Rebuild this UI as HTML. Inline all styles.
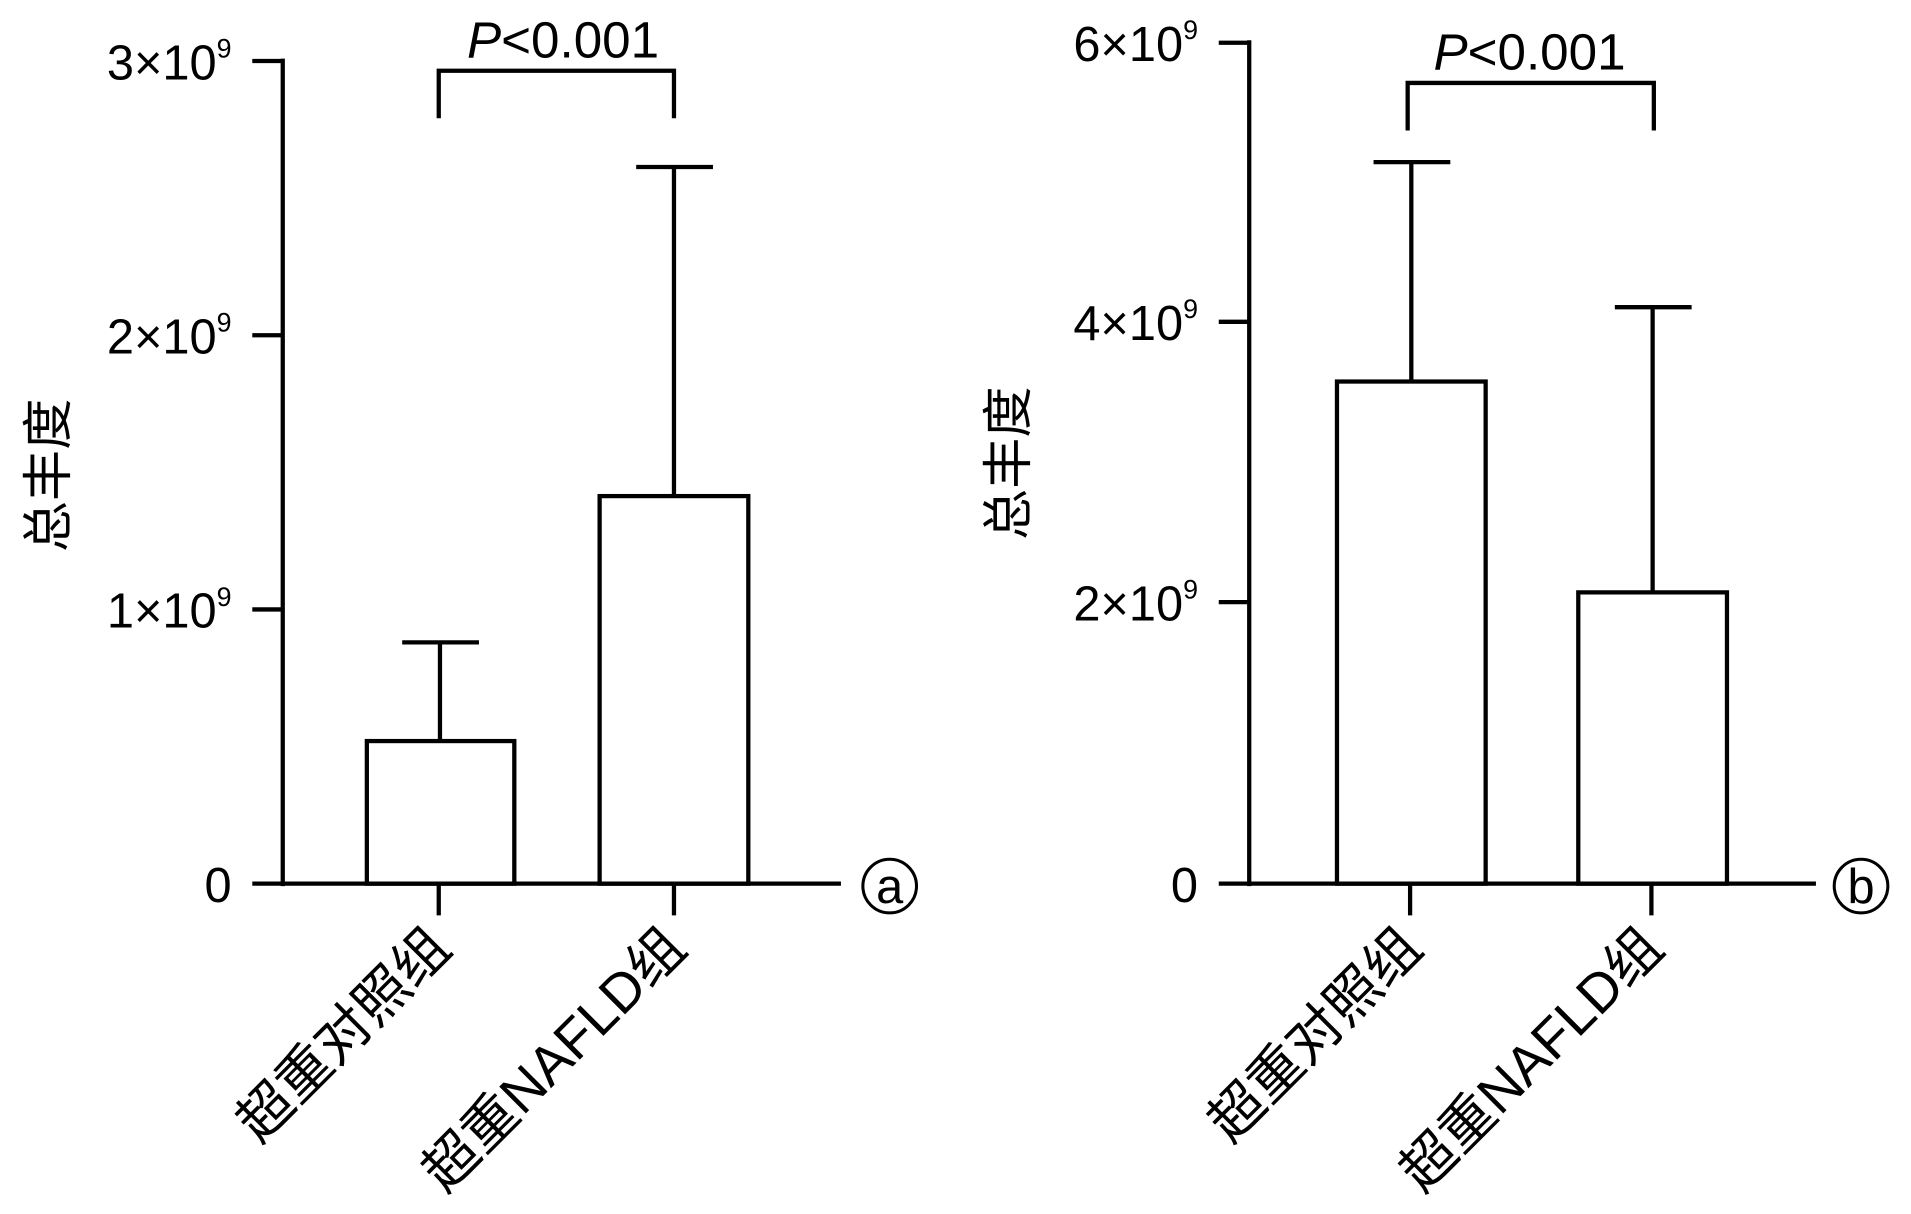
<!DOCTYPE html>
<html><head><meta charset="utf-8"><style>html,body{margin:0;padding:0;background:#fff}svg{display:block}</style></head>
<body>
<svg width="1911" height="1214" viewBox="0 0 1568 996" xmlns="http://www.w3.org/2000/svg" font-family="'Liberation Sans','Noto Sans CJK SC',sans-serif" fill="none" stroke="#000" stroke-width="3.5">
<!-- Panel a -->
<g>
<path d="M232 48V727M207 50H232M207 275H232M207 500H232M207 725H690M360 725V751M553 725V751"/>
<rect x="301" y="608" width="121" height="117"/>
<rect x="492" y="407" width="122" height="318"/>
<path d="M361 608V527M330 527H393M553 407V137M522 137H585"/>
<path d="M360 97V58H553V97"/>
<circle cx="730" cy="727" r="22" stroke-width="2.5"/>
<g fill="#000" stroke="none" font-size="40" text-anchor="end">
<text x="190" y="65">3×10<tspan font-size="22" dy="-18">9</tspan></text>
<text x="190" y="290">2×10<tspan font-size="22" dy="-18">9</tspan></text>
<text x="190" y="515">1×10<tspan font-size="22" dy="-18">9</tspan></text>
<text x="190" y="740">0</text>
</g>
<text x="462" y="47" fill="#000" stroke="none" font-size="42" text-anchor="middle"><tspan font-style="italic">P</tspan>&lt;0.001</text>
<text x="730" y="741" fill="#000" stroke="none" font-size="40" text-anchor="middle">a</text>
<text transform="translate(54,390) rotate(-90)" fill="#000" stroke="none" font-size="42" text-anchor="middle">总丰度</text>
<text transform="translate(372,780) rotate(-45)" fill="#000" stroke="none" font-size="45" text-anchor="end">超重对照组</text>
<text transform="translate(565,780) rotate(-45)" fill="#000" stroke="none" font-size="45" text-anchor="end">超重NAFLD组</text>
</g>
<!-- Panel b -->
<g>
<path d="M1025 33V727M1000 35H1025M1000 264H1025M1000 494H1025M1000 725H1490M1157 725V751M1355 725V751"/>
<rect x="1097" y="313" width="122" height="412"/>
<rect x="1295" y="486" width="122" height="239"/>
<path d="M1158 313V133M1127 133H1190M1356 486V252M1325 252H1388"/>
<path d="M1155 107V68H1357V107"/>
<circle cx="1527" cy="727" r="22" stroke-width="2.5"/>
<g fill="#000" stroke="none" font-size="40" text-anchor="end">
<text x="983" y="50">6×10<tspan font-size="22" dy="-18">9</tspan></text>
<text x="983" y="279">4×10<tspan font-size="22" dy="-18">9</tspan></text>
<text x="983" y="509">2×10<tspan font-size="22" dy="-18">9</tspan></text>
<text x="983" y="740">0</text>
</g>
<text x="1255" y="57" fill="#000" stroke="none" font-size="42" text-anchor="middle"><tspan font-style="italic">P</tspan>&lt;0.001</text>
<text x="1527" y="741" fill="#000" stroke="none" font-size="40" text-anchor="middle">b</text>
<text transform="translate(842,380) rotate(-90)" fill="#000" stroke="none" font-size="42" text-anchor="middle">总丰度</text>
<text transform="translate(1169,780) rotate(-45)" fill="#000" stroke="none" font-size="45" text-anchor="end">超重对照组</text>
<text transform="translate(1367,780) rotate(-45)" fill="#000" stroke="none" font-size="45" text-anchor="end">超重NAFLD组</text>
</g>
</svg>
</body></html>
